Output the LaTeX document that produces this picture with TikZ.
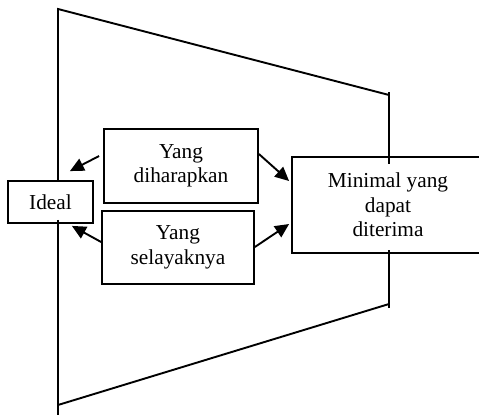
\documentclass[tikz,border=0pt]{standalone}
\usepackage{fontspec}
\setmainfont{Liberation Serif}
\usetikzlibrary{arrows.meta}
\begin{document}
\begin{tikzpicture}[x=1pt,y=1pt,
  box/.style={draw,line width=1.8pt,inner sep=0pt,align=center,font=\fontsize{21.3}{24.5}\selectfont},
  ln/.style={line width=1.9pt},
  arr/.style={line width=1.9pt,-{Triangle[length=14pt,width=13pt]}}]
\useasboundingbox (0,0) rectangle (479,416);
\clip (0,0) rectangle (479,416);
\node[box,minimum width=85pt,minimum height=42pt] (ideal) at (50.5,214) {Ideal};
\node[box,minimum width=154pt,minimum height=74pt] (dh) at (181,250) {Yang\\diharapkan};
\node[box,minimum width=152pt,minimum height=73pt] (sl) at (178,168.5) {Yang\\selayaknya};
\node[box,minimum width=192pt,minimum height=96pt] (mn) at (388,211) {Minimal yang\\dapat\\diterima};
\coordinate (tl) at (58,407);
\coordinate (tr) at (389,321);
\coordinate (bl) at (58,11);
\coordinate (br) at (389,112);
\draw[ln] (ideal.north -| tl) -- (tl) -- (tr);
\draw[ln] ([yshift=3pt]tr) -- ([yshift=-8pt]mn.north -| tr);
\draw[ln] ([yshift=4pt]ideal.south -| bl) -- (58,1);
\draw[ln] (bl) -- (br);
\draw[ln] ([yshift=-4pt]br) -- ([yshift=4pt]mn.south -| br);
\draw[arr] ([shift={(-4pt,10pt)}]dh.west) -- ([shift={(-24pt,9pt)}]ideal.north east);
\draw[arr] ([shift={(0pt,12pt)}]dh.east) -- ([shift={(-2pt,24pt)}]mn.west);
\draw[arr] ([shift={(0pt,5.5pt)}]sl.west) -- ([shift={(-22pt,-2pt)}]ideal.south east);
\draw[arr] ([shift={(0pt,0.5pt)}]sl.east) -- ([shift={(-2pt,-19pt)}]mn.west);
\end{tikzpicture}
\end{document}
